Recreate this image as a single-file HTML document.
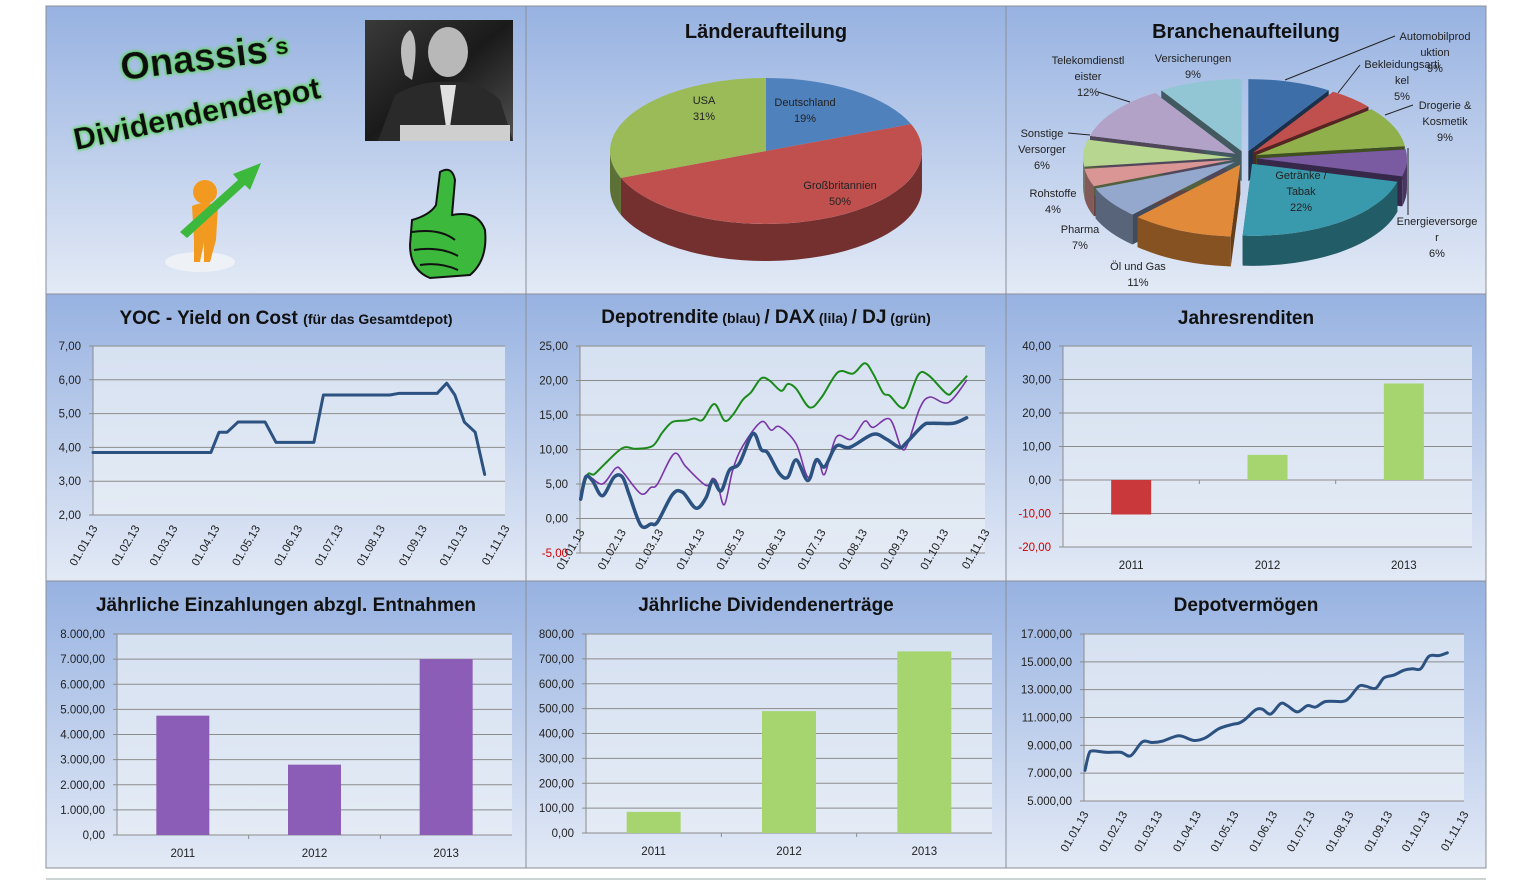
<!DOCTYPE html>
<html><head><meta charset="utf-8">
<style>
body{margin:0;background:#fff;}
svg{display:block;font-family:"Liberation Sans",sans-serif;}
</style></head>
<body>
<svg id="s" width="1521" height="881" viewBox="0 0 1521 881" xmlns="http://www.w3.org/2000/svg">
<defs>
<linearGradient id="pbg" x1="0" y1="0" x2="0" y2="1"><stop offset="0" stop-color="#97b2e1"/><stop offset="1" stop-color="#e3eaf6"/></linearGradient>
<linearGradient id="plot" x1="0" y1="0" x2="0" y2="1"><stop offset="0" stop-color="#d6e1f1"/><stop offset="1" stop-color="#e4ebf5"/></linearGradient>
<linearGradient id="photo" x1="0" y1="0" x2="1" y2="1"><stop offset="0" stop-color="#3a3a3a"/><stop offset="0.5" stop-color="#1a1a1a"/><stop offset="1" stop-color="#505050"/></linearGradient>
<filter id="glow"><feMorphology operator="dilate" radius="1" in="SourceAlpha" result="d"/><feGaussianBlur in="d" stdDeviation="1.5" result="b"/><feFlood flood-color="#5fd85f"/><feComposite in2="b" operator="in" result="g"/><feMerge><feMergeNode in="g"/><feMergeNode in="SourceGraphic"/></feMerge></filter>
</defs>
<g id="panels"></g>
<g id="deco">
  <text x="0" y="0" transform="translate(122,80) rotate(-7)" font-size="38" font-weight="bold" fill="#111" filter="url(#glow)">Onassis<tspan font-size="24" dy="-6">´s</tspan></text>
  <text x="0" y="0" transform="translate(76,150) rotate(-12)" font-size="31" font-weight="bold" fill="#111" filter="url(#glow)">Dividendendepot</text>
  <g>
    <rect x="365" y="20" width="148" height="121" fill="url(#photo)"/>
    <ellipse cx="448" cy="52" rx="20" ry="25" fill="#b8b8b8"/>
    <path d="M378 141 L395 95 Q420 80 448 82 Q480 80 500 100 L513 141Z" fill="#2a2a2a"/>
    <path d="M440 85 L448 141 L456 85Z" fill="#e0e0e0"/>
    <path d="M405 75 Q395 40 410 30 Q420 40 412 80Z" fill="#bdbdbd"/>
    <rect x="400" y="125" width="110" height="16" fill="#cfcfcf"/>
  </g>
  <g>
    <ellipse cx="200" cy="262" rx="35" ry="10" fill="#eef1f6"/>
    <circle cx="205" cy="192" r="12" fill="#f29a1f"/>
    <path d="M192 206 Q205 200 218 206 L216 240 L210 262 L204 262 L204 242 L200 262 L194 262 L194 240Z" fill="#f29a1f"/>
    <path d="M180 232 L238 180 L233 174 L261 163 L250 190 L245 185 L187 238Z" fill="#3cb83c"/>
  </g>
  <g>
    <path d="M440 172 Q452 165 455 180 L452 215 Q478 210 485 230 Q488 260 470 275 L430 278 Q410 270 410 245 L412 220 Q430 215 436 205Z" fill="#3cb83c" stroke="#111" stroke-width="2"/>
    <path d="M412 232 Q440 228 455 240 M414 250 Q440 246 458 256 M420 265 Q440 262 458 270" stroke="#111" stroke-width="2" fill="none"/>
  </g>
</g>
<g id="charts"></g>
</svg>
<script>
// ---------- data ----------
const monthTicks = [0,31,59,90,120,151,181,212,243,273,304];
const monthLabels = ["01.01.13","01.02.13","01.03.13","01.04.13","01.05.13","01.06.13","01.07.13","01.08.13","01.09.13","01.10.13","01.11.13"];
const yocDays = [0,87,93,99,107,127,135,163,170,219,226,254,261,267,274,282,289];
const yocValues = [3.85,3.85,4.45,4.45,4.75,4.75,4.15,4.15,5.55,5.55,5.6,5.6,5.9,5.55,4.75,4.45,3.2];
const depotZ = [165,180,200,230,265,290,310,345,375,395,440,470,510,540,560,585,610,640,680,705,725,760,785,810,845,870,895,930,970,1040,1080,1120,1140,1190,1215,1280,1320];
const depotValues = [2.8,6,5.5,3.3,6,6,3.5,-1,-0.8,-0.5,3.5,3.8,1.5,3,5.5,4,7,8,12.3,10,9.5,6.5,6,8.5,5.5,8.5,7.5,10.5,10.3,12.2,11.5,10.3,11,13.5,13.8,13.8,14.6];
const daxZ = [165,185,230,270,290,345,375,395,445,480,540,560,575,595,620,650,705,735,760,810,845,875,895,930,975,1015,1040,1090,1125,1145,1180,1210,1265,1320];
const daxValues = [2.8,6,5,7.3,6.8,3.6,4.5,5,9.4,7.5,4.8,5.8,5,2,7,10.5,14,12.8,13.3,10.8,6,8.5,6.4,11.8,11.5,14.1,13.2,14.4,10.2,11,16,17.6,16.8,20];
const djZ = [165,185,205,235,290,330,380,410,440,480,505,530,565,595,620,650,675,705,730,765,785,810,850,885,935,980,1015,1040,1070,1090,1120,1140,1175,1205,1260,1280,1320];
const djValues = [2.8,6.3,6.4,7.8,10.2,10.1,10.5,12.5,14,14.2,14.5,14.3,16.6,14.2,15,17.2,18.3,20.3,20,18.5,19.5,18.8,16.1,17.5,21.2,21,22.5,21,18.2,17.8,16.2,16.5,20.8,20.8,18.1,18.5,20.6];
const vermZ = [238,250,262,300,345,375,410,440,470,510,530,565,600,640,680,700,720,750,770,795,825,845,875,905,930,960,1010,1030,1060,1080,1110,1135,1165,1195,1220,1245,1270,1300,1325];
const vermValues = [7200,8400,8600,8500,8500,8250,9250,9200,9300,9650,9650,9350,9550,10200,10500,10600,10900,11550,11600,11250,12000,11850,11400,11850,11750,12150,12150,12400,13250,13250,13100,13850,14050,14400,14500,14500,15400,15450,15650];
const yearCats = ["2011","2012","2013"];
const jahresValues = [-10.3,7.5,28.8];
const einzValues = [4750,2800,7000];
const divValues = [85,490,730];
const laenderNames = ["Deutschland","Großbritannien","USA"];
const laenderShares = [19,50,31];
const branchNames = ["Automobilproduktion","Bekleidungsartikel","Drogerie & Kosmetik","Energieversorger","Getränke / Tabak","Öl und Gas","Pharma","Rohstoffe","Sonstige Versorger","Telekomdienstleister","Versicherungen"];
const branchShares = [9,5,9,6,22,11,7,4,6,12,9];

const NS="http://www.w3.org/2000/svg";
function mk(tag,attrs,parent){const e=document.createElementNS(NS,tag);for(const k in attrs)e.setAttribute(k,attrs[k]);(parent||document.getElementById('charts')).appendChild(e);return e;}
function fmt(v){let s=Math.abs(v).toFixed(2).replace('.',',');let [i,d]=s.split(',');i=i.replace(/\B(?=(\d{3})+(?!\d))/g,'.');return (v<0?'-':'')+i+','+d;}
const zToDay=(z,z0,z1)=>(z-z0)/(z1-z0)*304;

// panels
const P=document.getElementById('panels');
const cols=[46,526,1006,1486], rows=[6,294,581,868];
for(let r=0;r<3;r++)for(let c=0;c<3;c++){
  const p=mk('rect',{x:cols[c],y:rows[r],width:cols[c+1]-cols[c],height:rows[r+1]-rows[r],fill:'url(#pbg)',stroke:'#8a8f99','stroke-width':1},P);
  
  
}
mk('line',{x1:46,y1:879,x2:1486,y2:879,stroke:'#9aa',"stroke-width":1},P);

function title(x,y,parts,name){const t=mk('text',{x:x,y:y,'text-anchor':'middle','font-weight':'bold','font-size':19,fill:'#111'});
  
  parts.forEach(p=>{const s=mk('tspan',{'font-size':p[1]},t);s.textContent=p[0];});}

function axes(o){
  const g=mk('g',{});
  mk('rect',{x:o.x0,y:o.y0,width:o.x1-o.x0,height:o.y1-o.y0,fill:'url(#plot)'},g);
  const sy=v=>o.y1-(v-o.min)/(o.max-o.min)*(o.y1-o.y0);
  for(let v=o.min;v<=o.max+1e-9;v+=o.step){
    const y=sy(v);
    mk('line',{x1:o.x0-4,x2:o.x1,y1:y,y2:y,stroke:'#8c8c8c','stroke-width':1},g);
    const t=mk('text',{x:o.x0-12,y:y+4,'text-anchor':'end','font-size':11.5,fill:(v<0?'#d00000':'#222')},g);
    t.textContent=fmt(v);
  }
  mk('line',{x1:o.x0,x2:o.x0,y1:o.y0,y2:o.y1,stroke:'#8c8c8c'},g);
  return sy;
}
function dateAxis(x0,x1,y,name){
  const sx=d=>x0+d/304*(x1-x0);
  monthTicks.forEach((d,i)=>{const x=sx(d);
    const t=mk('text',{x:0,y:0,transform:`translate(${x+5},${y+13}) rotate(-60)`,'text-anchor':'end','font-size':11.5,fill:'#222'});
    t.textContent=monthLabels[i];});
  return sx;
}
function smooth(pts){let d=`M${pts[0][0]},${pts[0][1]}`;
  for(let i=0;i<pts.length-1;i++){const p0=pts[i-1]||pts[i],p1=pts[i],p2=pts[i+1],p3=pts[i+2]||p2;
    const c1=[p1[0]+(p2[0]-p0[0])/6,p1[1]+(p2[1]-p0[1])/6],c2=[p2[0]-(p3[0]-p1[0])/6,p2[1]-(p3[1]-p1[1])/6];
    d+=`C${c1[0]},${c1[1]} ${c2[0]},${c2[1]} ${p2[0]},${p2[1]}`;}return d;}
function line(days,vals,sx,sy,color,w,name,sm){
  const pts=days.map((d,i)=>[sx(d),sy(vals[i])]);
  const d=sm?smooth(pts):'M'+pts.map(p=>p.join(',')).join('L');
  const e=mk('path',{d:d,fill:'none',stroke:color,'stroke-width':w,'stroke-linejoin':'round','stroke-linecap':'round'});
  }

// YOC
title(286,324,[["YOC - Yield on Cost  ",19],[" (für das Gesamtdepot)",14]],'yoc-title');
let sy=axes({x0:93,x1:505,y0:346,y1:515,min:2,max:7,step:1,name:'yoc'});
let sx=dateAxis(93,505,515,'yoc');
line(yocDays,yocValues,sx,sy,'#2c5282',3,'yoc-line',false);

// Depotrendite
title(766,323,[["Depotrendite",19],[" (blau) ",14],[" / DAX",19],[" (lila) ",14],["/ DJ",19],[" (grün)",14]],'depot-title');
sy=axes({x0:580,x1:985,y0:346,y1:553,min:-5,max:25,step:5,name:'depot'});
sx=dateAxis(580,985,519,'depot');
line(djZ.map(z=>zToDay(z,163,1375)),djValues,sx,sy,'#1a8a1a',2,'dj-line',true);
line(daxZ.map(z=>zToDay(z,163,1375)),daxValues,sx,sy,'#7a35a8',1.6,'dax-line',true);
line(depotZ.map(z=>zToDay(z,163,1375)),depotValues,sx,sy,'#2c5282',3.5,'depot-line',true);

// bars
function bars(o,vals,color,name){
  const sy=axes(o);const n=vals.length,cw=(o.x1-o.x0)/n;
  const zero=sy(Math.max(0,o.min));
  for(let i=1;i<n;i++){const x=o.x0+cw*i;mk('line',{x1:x,x2:x,y1:zero,y2:zero+4,stroke:'#8c8c8c'});}
  vals.forEach((v,i)=>{const cx=o.x0+cw*(i+.5);const y=sy(v);
    const c=typeof color==='function'?color(v):color;
    const r=mk('rect',{x:cx-o.bw/2,y:Math.min(y,zero),width:o.bw,height:Math.abs(zero-y),fill:c});
    
    const t=mk('text',{x:cx,y:o.ly,'text-anchor':'middle','font-size':11.5,fill:'#222'});t.textContent=yearCats[i];
    });
}
title(1246,324,[["Jahresrenditen",19]],'jahres-title');
bars({x0:1063,x1:1472,y0:346,y1:547,min:-20,max:40,step:10,bw:40,ly:569,name:'jahres'},jahresValues,v=>v<0?'#c9393c':'#a6d46f','jahres');
title(286,611,[["Jährliche Einzahlungen abzgl. Entnahmen",19]],'einz-title');
bars({x0:117,x1:512,y0:634,y1:835,min:0,max:8000,step:1000,bw:53,ly:857,name:'einz'},einzValues,'#8c5db6','einz');
title(766,611,[["Jährliche Dividendenerträge",19]],'div-title');
bars({x0:586,x1:992,y0:634,y1:833,min:0,max:800,step:100,bw:54,ly:855,name:'div'},divValues,'#a6d46f','div');

// Depotvermögen
title(1246,611,[["Depotvermögen",19]],'verm-title');
sy=axes({x0:1084,x1:1464,y0:634,y1:801,min:5000,max:17000,step:2000,name:'verm'});
sx=dateAxis(1084,1464,801,'verm');
line(vermZ.map(z=>zToDay(z,235,1375)),vermValues,sx,sy,'#2c5282',3,'verm-line',true);

// pies
function shade(hex,f){const n=parseInt(hex.slice(1),16);const r=(n>>16)*f,g=((n>>8)&255)*f,b=(n&255)*f;return `rgb(${r|0},${g|0},${b|0})`;}
function pie(o,shares,names,colors,name){
  const tot=shares.reduce((a,b)=>a+b,0);let a=-Math.PI/2;const segs=[];
  shares.forEach((s,i)=>{const a1=a+s/tot*2*Math.PI;segs.push([a,a1,i]);a=a1;});
  const g=mk('g',{});
  const P=(cx,cy,t,dy)=>[cx+o.rx*Math.cos(t),cy+o.ry*Math.sin(t)+(dy||0)];
  const off=s=>{const m=(s[0]+s[1])/2;return [o.cx+o.ex*Math.cos(m),o.cy+o.ex*0.6*Math.sin(m)];};
  segs.forEach(s=>{const [cx,cy]=off(s);
    [s[0],s[1]].forEach(t=>{const p=P(cx,cy,t);if(o.ex>0)mk('path',{d:`M${cx},${cy}L${p[0]},${p[1]}L${p[0]},${p[1]+o.d}L${cx},${cy+o.d}Z`,fill:shade(colors[s[2]],0.45)},g);});
  });
  segs.forEach(s=>{const [cx,cy]=off(s);
    const st=Math.max(s[0],0),en=Math.min(s[1],Math.PI);
    if(st<en){const p0=P(cx,cy,st),p1=P(cx,cy,en);
      mk('path',{d:`M${p0[0]},${p0[1]}A${o.rx},${o.ry} 0 0 1 ${p1[0]},${p1[1]}L${p1[0]},${p1[1]+o.d}A${o.rx},${o.ry} 0 0 0 ${p0[0]},${p0[1]+o.d}Z`,fill:shade(colors[s[2]],0.6)},g);}
  });
  segs.forEach(s=>{const [cx,cy]=off(s);const p0=P(cx,cy,s[0]),p1=P(cx,cy,s[1]);
    const large=(s[1]-s[0])>Math.PI?1:0;
    const e=mk('path',{d:`M${cx},${cy}L${p0[0]},${p0[1]}A${o.rx},${o.ry} 0 ${large} 1 ${p1[0]},${p1[1]}Z`,fill:colors[s[2]]},g);
    
    });
}
title(766,38,[["Länderaufteilung",20]],'laender-title');
pie({cx:766,cy:151,rx:156,ry:73,d:37,ex:0},laenderShares,laenderNames,['#4f81bd','#c0504d','#9bbb59'],'laender-pie');
title(1246,38,[["Branchenaufteilung",20]],'branchen-title');
pie({cx:1245,cy:158,rx:150,ry:72,d:30,ex:12},branchShares,branchNames,['#3d6ea8','#c0504d','#8fb04a','#7a5aa0','#3a9aad','#e08a3a','#93a8cc','#d99694','#b7d68f','#b3a2c8','#92c6d4'],'branchen-pie');

// pie labels
function lbl(x,y,lines,name){const t=mk('text',{x:x,y:y,'text-anchor':'middle','font-size':11,fill:'#222'});
  
  lines.forEach((l,i)=>{const s=mk('tspan',{x:x,dy:i?16:0},t);s.textContent=l;});}
lbl(704,104,["USA","31%"],'label-usa');lbl(805,106,["Deutschland","19%"],'label-deutschland');lbl(840,189,["Großbritannien","50%"],'label-gb');
lbl(1435,40,["Automobilprod","uktion","9%"],'label-auto');lbl(1402,68,["Bekleidungsarti","kel","5%"],'label-bekl');
lbl(1445,109,["Drogerie &","Kosmetik","9%"],'label-drog');lbl(1437,225,["Energieversorge","r","6%"],'label-energie');
lbl(1301,179,["Getränke /","Tabak","22%"],'label-getraenke');lbl(1138,270,["Öl und Gas","11%"],'label-oel');
lbl(1080,233,["Pharma","7%"],'label-pharma');lbl(1053,197,["Rohstoffe","4%"],'label-rohstoffe');
lbl(1042,137,["Sonstige","Versorger","6%"],'label-sonstige');lbl(1088,64,["Telekomdienstl","eister","12%"],'label-telekom');
lbl(1193,62,["Versicherungen","9%"],'label-vers');
const lead=[[1395,36,1285,80],[1360,65,1338,93],[1413,105,1385,115],[1408,148,1408,215],[1098,92,1130,102],[1068,133,1090,135]];
lead.forEach(l=>{const e=mk('line',{x1:l[0],y1:l[1],x2:l[2],y2:l[3],stroke:'#222','stroke-width':1});});
</script>
</body></html>
